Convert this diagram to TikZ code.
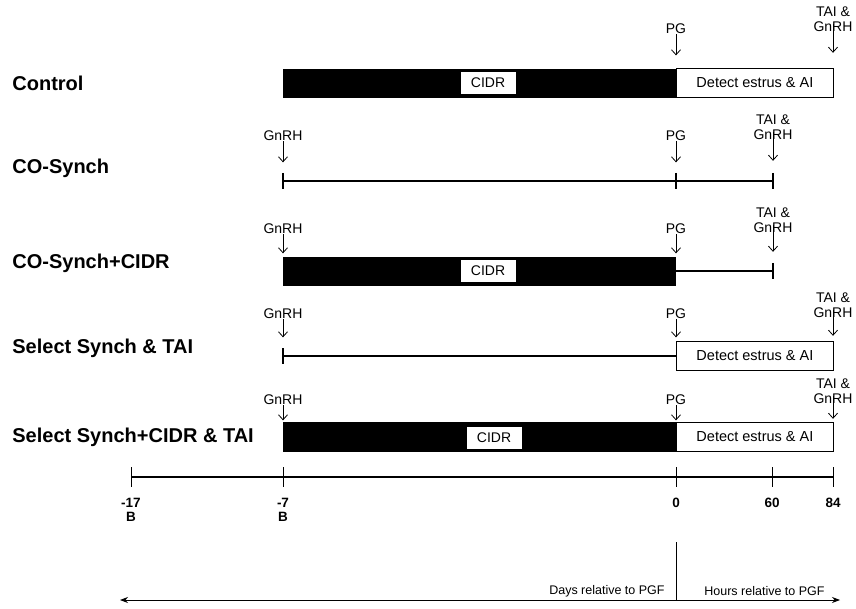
\documentclass[tikz,border=0pt]{standalone}
\usepackage{fontspec}
\setmainfont{Liberation Sans}
\usetikzlibrary{arrows.meta}

\begin{document}
\begin{tikzpicture}[x=1pt, y=-1pt, line width=0.8pt,
    lab/.style={font=\fontsize{14}{15}\selectfont, align=center, inner sep=0pt},
    trt/.style={font=\fontsize{20}{20}\selectfont\bfseries, anchor=west, inner sep=0pt},
    shot/.style={-{Straight Barb[length=5pt, width=9pt, line width=0.8pt]}},
    cidrbox/.style={draw=black, fill=white, font=\fontsize{14}{15}\selectfont, minimum width=56, minimum height=23, inner sep=0pt},
    obsbox/.style={draw=black, fill=white, font=\fontsize{14.5}{15}\selectfont, anchor=west, minimum width=157, minimum height=29, inner sep=0pt},
    tline/.style={line width=2.6pt},
    axtick/.style={line width=0.8pt}]
    \useasboundingbox (0,0) rectangle (856,609);

    % Control
    \node[trt] (t1) at (12,83) {Control};
    \fill (283,69) rectangle (676,98);
    \node[cidrbox] (c1) at (488,83) {CIDR};
    \node[obsbox] (d1) at (676,83) {Detect estrus \& AI};
    \node[lab] (p1) at (676,29) {PG};
    \node[lab] (f1) at (833,19) {TAI \&\\GnRH};
    \draw[shot] (p1.south) -- ++(0,21);
    \draw[shot] (f1.south) ++(0,-8) -- ++(0,29);

    % CO-Synch
    \node[trt] (t2) at (12,168) {CO-Synch};
    \node[lab] (g2) at (283,136) {GnRH};
    \node[lab] (p2) at (676,136) {PG};
    \node[lab] (f2) at (773,127) {TAI \&\\GnRH};
    \draw[shot] (g2.south) -- ++(0,21);
    \draw[shot] (p2.south) -- ++(0,21);
    \draw[shot] (f2.south) ++(0,-8) -- ++(0,29);
    \draw[tline] (283,181) -- (773,181);
    \draw[tline] (283,173) -- (283,189);
    \draw[tline] (676,173) -- (676,189);
    \draw[tline] (773,173) -- (773,189);

    % CO-Synch+CIDR
    \node[trt] (t3) at (12,263) {CO-Synch+CIDR};
    \node[lab] (g3) at (283,229) {GnRH};
    \node[lab] (p3) at (676,229) {PG};
    \node[lab] (f3) at (773,220) {TAI \&\\GnRH};
    \draw[shot] (g3.south) -- ++(0,19);
    \draw[shot] (p3.south) -- ++(0,19);
    \draw[shot] (f3.south) ++(0,-8) -- ++(0,27);
    \fill (283,257) rectangle (676,286);
    \node[cidrbox] (c3) at (488,271) {CIDR};
    \draw[tline] (676,271) -- (773,271);
    \draw[tline] (773,263) -- (773,279);

    % Select Synch & TAI
    \node[trt] (t4) at (12,348) {Select Synch \& TAI};
    \node[lab] (g4) at (283,314) {GnRH};
    \node[lab] (p4) at (676,314) {PG};
    \node[lab] (f4) at (833,305) {TAI \&\\GnRH};
    \draw[shot] (g4.south) -- ++(0,18);
    \draw[shot] (p4.south) -- ++(0,18);
    \draw[shot] (f4.south) ++(0,-8) -- ++(0,26);
    \draw[tline] (283,356) -- (676,356);
    \draw[tline] (283,348) -- (283,364);
    \node[obsbox] (d4) at (676,356) {Detect estrus \& AI};

    % Select Synch+CIDR & TAI
    \node[trt] (t5) at (12,437) {Select Synch+CIDR \& TAI};
    \node[lab] (g5) at (283,400) {GnRH};
    \node[lab] (p5) at (676,400) {PG};
    \node[lab] (f5) at (833,391) {TAI \&\\GnRH};
    \draw[shot] (g5.south) -- ++(0,15);
    \draw[shot] (p5.south) -- ++(0,15);
    \draw[shot] (f5.south) ++(0,-8) -- ++(0,23);
    \fill (283,422) rectangle (676,452);
    \node[cidrbox] (c5) at (494,438) {CIDR};
    \node[obsbox] (d5) at (676,437) {Detect estrus \& AI};

    % Time axis
    \draw[line width=1.4pt] (131,477) -- (833,477);
    \foreach \x/\d/\b in {131/-17/B, 283/-7/B, 676/0/, 772/60/, 833/84/} {
        \draw[axtick] (\x,467) -- (\x,487);
        \node[lab, font=\fontsize{13.5}{14}\selectfont\bfseries] at (\x,510) {\d\\\b};
    }

    % Days and hours
    \draw (676,542) -- (676,600);
    \draw[{Stealth[length=8pt, width=6pt]}-{Stealth[length=8pt, width=6pt]}] (120,600) -- (840,600);
    \node[lab, font=\fontsize{12.5}{13}\selectfont, anchor=east] (dy) at (665,591) {Days relative to PGF};
    \node[lab, font=\fontsize{12.5}{13}\selectfont, anchor=west] (hr) at (704,591) {Hours relative to PGF};
\end{tikzpicture}
\end{document}
